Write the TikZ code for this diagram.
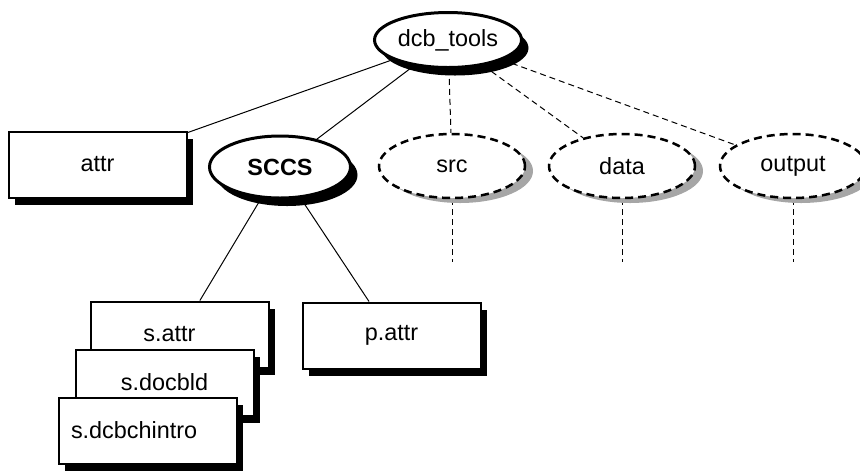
\documentclass[tikz,border=0pt]{standalone}
\usepackage{fontspec}
\setmainfont{Liberation Sans}
\usetikzlibrary{shapes.geometric,shadows,backgrounds}

\tikzset{
  lbl/.style={font=\fontsize{11.7}{14}\selectfont},
  dirbox/.style={lbl, draw, rectangle, line width=1pt, fill=white, inner sep=0pt,
    minimum width=89pt, minimum height=33pt,
    drop shadow={shadow xshift=3pt, shadow yshift=-3.5pt, opacity=1, fill=black}},
  direll/.style={lbl, draw, ellipse, line width=1.5pt, fill=white, inner sep=0pt,
    drop shadow={shadow xshift=3.5pt, shadow yshift=-4pt, opacity=1, fill=black}},
  virtell/.style={lbl, draw, ellipse, line width=1.25pt, dash pattern=on 4pt off 2.5pt, fill=white, inner sep=0pt,
    minimum width=73pt, minimum height=32pt,
    drop shadow={shadow xshift=4pt, shadow yshift=-2.5pt, opacity=1, fill=black!35}},
  tie/.style={line width=0.5pt},
  vtie/.style={line width=0.5pt, dash pattern=on 3pt off 2pt}
}

\begin{document}
\begin{tikzpicture}[x=0.5pt,y=-0.5pt]
	\useasboundingbox (0,0) rectangle (860,472);
	\node[direll, minimum width=73.5pt, minimum height=27.5pt] (dcb) at (448,40) {dcb\_tools};
	\node[dirbox] (attr) at (97.5,164.5) {attr};
	\node[direll, minimum width=70.5pt, minimum height=31pt, font=\fontsize{11.7}{14}\selectfont\bfseries] (sccs) at (280,167) {SCCS};
	\node[virtell] (src) at (452,166) {src};
	\node[virtell] (data) at (622,166) {data};
	\node[virtell] (output) at (793,166) {output};
	\node[dirbox] (sattr) at (179.5,334.5) {\hspace*{-10pt}s.attr};
	\node[dirbox] (sdocbld) at (164.5,382.5) {s.docbld};
	\node[dirbox, text width=77pt, align=left, inner xsep=6pt] (sintro) at (148,430.5) {s.dcbchintro};
	\node[dirbox] (pattr) at (391.5,335.5) {p.attr};
	\coordinate (srcend) at (452,262);
	\coordinate (dataend) at (622,262);
	\coordinate (outputend) at (793,262);
	\begin{scope}[on background layer]
		\draw[tie] (dcb) -- (attr);
		\draw[tie] (dcb) -- (sccs);
		\draw[vtie] (dcb) -- (src);
		\draw[vtie] (dcb) -- (data);
		\draw[vtie] (dcb) -- (output);
		\draw[tie] (sccs) -- (sattr);
		\draw[tie] (sccs) -- (pattr);
		\draw[vtie] (src) -- (srcend);
		\draw[vtie] (data) -- (dataend);
		\draw[vtie] (output) -- (outputend);
	\end{scope}
\end{tikzpicture}
\end{document}
